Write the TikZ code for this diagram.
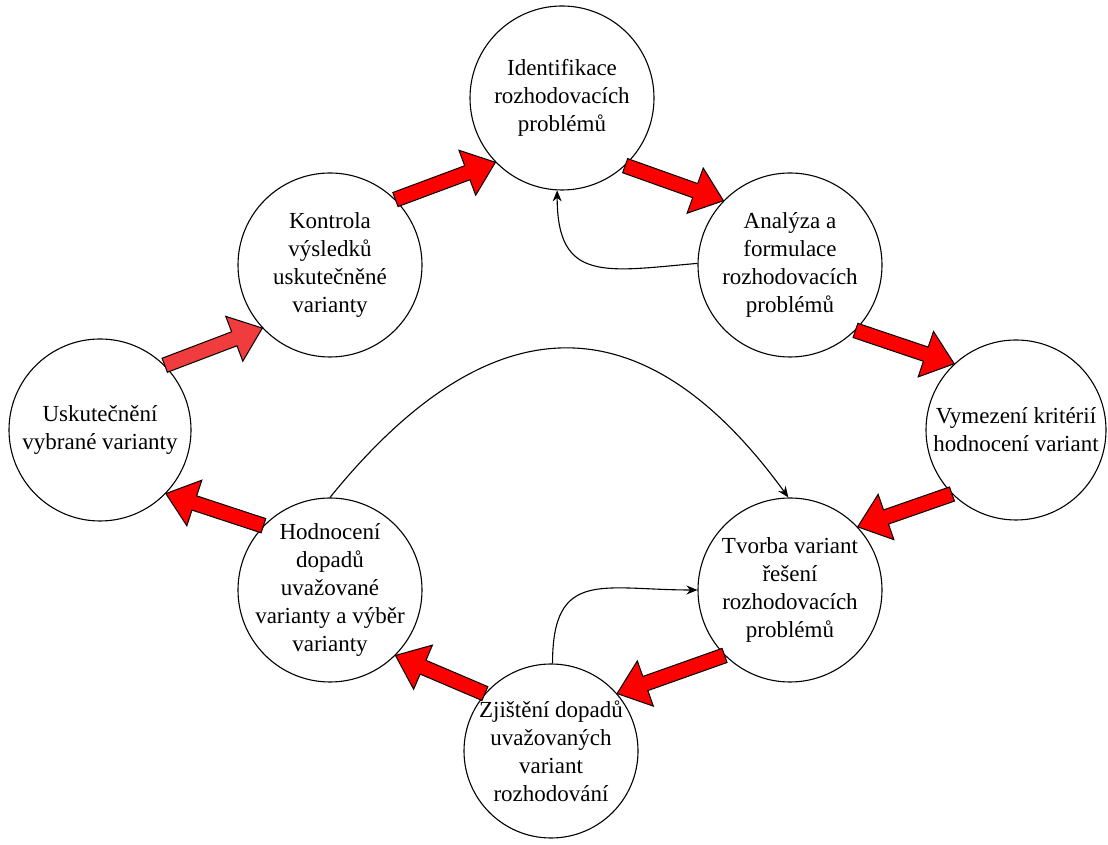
\documentclass[tikz,border=0pt]{standalone}
\usepackage{fontspec}
\setmainfont{Liberation Serif}
\usepackage{tikz}
\usetikzlibrary{arrows.meta, positioning, calc}
\definecolor{ArrowRed}{RGB}{255,0,0}
\definecolor{ArrowLight}{RGB}{240,60,60}

% block arrow from tail anchor to tip anchor
\newcommand{\blockarrow}[3][ArrowRed]{%
  \coordinate (ba-t) at (#2);
  \coordinate (ba-h) at (#3);
  \coordinate (ba-b) at ($(ba-h)!30pt!(ba-t)$);
  \draw[blockarr,fill=#1] ($(ba-t)!7.5pt!90:(ba-h)$) -- ($(ba-b)!7.5pt!-90:(ba-t)$)
    -- ($(ba-b)!24pt!-90:(ba-t)$) -- (ba-h) -- ($(ba-b)!24pt!90:(ba-t)$)
    -- ($(ba-b)!7.5pt!90:(ba-t)$) -- ($(ba-t)!7.5pt!-90:(ba-h)$) -- cycle;}

\begin{document}
\begin{tikzpicture}[x=1pt,y=1pt,
        phase/.style={draw=black,line width=1.1pt,fill=white,circle,
                      minimum size=184pt,inner sep=-20pt,align=center,
                      font=\fontsize{23}{28}\selectfont},
        blockarr/.style={draw=black,line width=1pt,line join=miter},
        thinarr/.style={draw=black,line width=1.1pt,-{Stealth[length=11pt,width=9pt]}}
      ]
        \useasboundingbox (0,0) rectangle (1108,845);
        \node[phase] (ide) at (562,747) {Identifikace\\rozhodovacích\\problémů};
        \node[phase] (ana) at (790,580) {Analýza a\\formulace\\rozhodovacích\\problémů};
        \node[phase,minimum size=180pt] (vym) at (1016,415) {Vymezení kritérií\\hodnocení variant};
        \node[phase] (tvo) at (790,255) {Tvorba variant\\řešení\\rozhodovacích\\problémů};
        \node[phase,minimum size=174pt] (zji) at (551,94) {Zjištění dopadů\\uvažovaných\\variant\\rozhodování};
        \node[phase] (hod) at (330,255) {Hodnocení\\dopadů\\uvažované\\varianty a výběr\\varianty};
        \node[phase,minimum size=182pt] (usk) at (100,415) {Uskutečnění\\vybrané varianty};
        \node[phase] (kon) at (330,580) {Kontrola\\výsledků\\uskutečněné\\varianty};
        % cycle
        \blockarrow[ArrowLight]{usk.45}{kon.223}
        \blockarrow{kon.45}{ide.224}
        \blockarrow{ide.313}{ana.136}
        \blockarrow{ana.315}{vym.133}
        \blockarrow{vym.225}{tvo.43}
        \blockarrow{tvo.225}{zji.41}
        \blockarrow{zji.139}{hod.315}
        \blockarrow{hod.136}{usk.316}
        % feedback
        \draw[thinarr] (ana.179) to[out=185,in=270,looseness=1.5] (ide.267);
        \draw[thinarr] (hod.90) to[out=51,in=126,looseness=1.4] (tvo.91);
        \draw[thinarr] (zji.89) to[out=90,in=180,looseness=1.5] (tvo.180);
      \end{tikzpicture}
\end{document}
